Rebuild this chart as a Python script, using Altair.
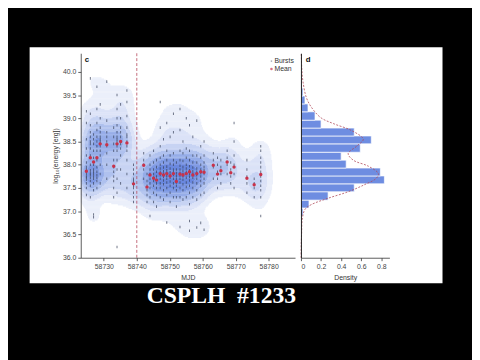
import numpy as np
import pandas as pd
import altair as alt

alt.data_transformers.disable_max_rows()

# ---------------- data ----------------
days = [58724.7, 58725.9, 58726.9, 58727.9, 58728.9, 58730.9, 58733.0, 58734.0, 58735.1, 58737.0, 58739.0,
        58742.1, 58743.1, 58744.0, 58745.1, 58746.0, 58747.1, 58748.1, 58749.1, 58750.1, 58751.1,
        58752.0, 58753.1, 58754.0, 58755.0, 58756.0, 58757.0, 58758.2, 58759.4, 58760.4,
        58763.2, 58764.5, 58765.5, 58767.4, 58768.5, 58769.5, 58773.4, 58775.6, 58777.6]

mean_energy = [37.86, 38.15, 38.06, 38.15, 38.45, 38.43, 37.97, 38.45, 38.50, 38.47, 37.59,
               37.99, 37.52, 37.78, 37.71, 37.67, 37.81, 37.78, 37.81, 37.76, 37.81,
               37.64, 37.80, 37.78, 37.81, 37.85, 37.78, 37.81, 37.85, 37.84,
               37.99, 37.80, 37.87, 38.06, 37.83, 37.95, 37.71, 37.57, 37.79]

burst_energy = [
    [37.35, 37.5, 37.6, 37.68, 37.72, 37.75, 37.8, 37.85, 37.9, 37.95, 38.05, 38.2, 38.35, 38.55, 38.9, 39.15],
    [37.3, 37.55, 37.65, 37.72, 37.78, 37.82, 37.88, 38.0, 38.2, 38.35, 38.45, 38.5, 38.6, 38.7, 38.85, 39.1, 39.86],
    [37.45, 37.6, 37.7, 37.75, 37.8, 37.85, 37.9, 38.0, 38.15, 38.3, 38.45, 38.55, 38.65, 36.93, 36.87],
    [37.5, 37.65, 37.72, 37.78, 37.85, 37.95, 38.1, 38.3, 38.4, 38.5, 38.6, 38.75, 38.9, 39.2, 39.68],
    [37.6, 37.8, 38.0, 38.2, 38.3, 38.4, 38.45, 38.5, 38.55, 38.6, 38.7, 38.8, 39.0, 39.3],
    [37.7, 38.0, 38.25, 38.4, 38.5, 38.6, 38.7, 38.95, 39.79],
    [37.3, 37.5, 37.65, 37.75, 37.85, 37.95, 38.1, 38.3, 38.45, 38.6, 38.8],
    [37.4, 37.7, 37.9, 38.1, 38.3, 38.4, 38.5, 38.55, 38.6, 38.7, 38.85, 39.0, 39.2, 39.5, 36.23],
    [37.6, 37.9, 38.2, 38.35, 38.45, 38.5, 38.6, 38.7, 38.8, 39.0, 39.3],
    [37.5, 37.8, 38.1, 38.3, 38.4, 38.5, 38.6, 38.65, 38.8, 39.05, 39.35, 39.6],
    [37.2, 37.3, 37.4, 37.5, 37.55, 37.6, 37.65, 37.7, 37.8, 37.9, 38.0],
    [37.7, 37.9, 38.0, 38.1, 38.25],
    [37.2, 37.35, 37.45, 37.55, 37.65, 37.8],
    [37.3, 37.5, 37.6, 37.7, 37.8, 37.9, 38.0, 38.2, 36.9],
    [37.2, 37.4, 37.55, 37.65, 37.72, 37.8, 37.9, 38.05, 38.3],
    [37.1, 37.35, 37.5, 37.6, 37.68, 37.75, 37.85, 37.95, 38.1],
    [37.3, 37.5, 37.6, 37.7, 37.78, 37.85, 37.92, 38.0, 38.15, 38.4, 38.8, 39.35],
    [37.25, 37.45, 37.58, 37.66, 37.74, 37.8, 37.86, 37.94, 38.05, 38.2, 38.55],
    [37.35, 37.5, 37.62, 37.7, 37.76, 37.82, 37.88, 37.96, 38.1, 38.3, 38.9, 36.76],
    [37.2, 37.4, 37.55, 37.64, 37.72, 37.78, 37.84, 37.92, 38.02, 38.2, 38.6],
    [37.3, 37.5, 37.6, 37.7, 37.78, 37.85, 37.9, 38.0, 38.1, 38.25, 38.7, 39.1],
    [37.1, 37.3, 37.45, 37.55, 37.62, 37.7, 37.76, 37.82, 37.9, 38.05],
    [37.3, 37.5, 37.62, 37.7, 37.77, 37.83, 37.9, 37.98, 38.1, 38.3, 38.75, 39.2, 36.66],
    [37.25, 37.45, 37.58, 37.68, 37.75, 37.8, 37.87, 37.95, 38.08, 38.25, 38.5],
    [37.3, 37.52, 37.62, 37.72, 37.8, 37.85, 37.92, 38.0, 38.15, 38.35, 39.0],
    [37.15, 37.4, 37.55, 37.66, 37.74, 37.8, 37.88, 37.97, 38.1, 38.3, 38.85, 36.58, 36.79],
    [37.3, 37.5, 37.62, 37.72, 37.8, 37.86, 37.94, 38.05, 38.2, 38.6],
    [37.25, 37.45, 37.6, 37.7, 37.78, 37.85, 37.92, 38.05, 38.2, 38.95, 36.65],
    [37.35, 37.55, 37.65, 37.75, 37.82, 37.9, 38.0, 38.15, 38.4, 36.75],
    [37.4, 37.6, 37.7, 37.8, 37.88, 37.95, 38.05, 38.2, 38.5, 36.6],
    [37.7, 37.95, 38.1, 38.25],
    [37.5, 37.7, 37.85, 38.0, 38.15],
    [37.6, 37.8, 37.95, 38.1],
    [37.8, 38.0, 38.15, 38.3],
    [37.6, 37.75, 37.9, 38.05],
    [37.5, 37.8, 38.0, 38.2, 38.5, 38.9],
    [37.4, 37.6, 37.75, 37.9, 38.1],
    [37.3, 37.5, 37.6, 37.7],
    [36.9, 37.3, 37.45, 37.55, 37.65, 37.75, 37.85, 37.95, 38.05, 38.15, 38.3, 38.4],
]

split_mjd = [58740]

hist_edges = [36.90, 37.07, 37.24, 37.42, 37.59, 37.76, 37.93, 38.10, 38.27, 38.45,
              38.62, 38.79, 38.96, 39.14, 39.31, 39.48, 39.65, 39.82]
hist_density = [0.02, 0.08, 0.27, 0.53, 0.83, 0.79, 0.45, 0.40, 0.59, 0.70,
                0.53, 0.20, 0.14, 0.07, 0.04, 0.02, 0.01]

kde_energy = [36.0, 36.3, 36.55, 36.83, 37.04, 37.14, 37.28, 37.42, 37.57, 37.71, 37.81, 37.97,
              38.10, 38.24, 38.41, 38.55, 38.74, 38.88, 39.01, 39.22, 39.44, 39.79, 40.1, 40.4]
kde_density = [0.001, 0.003, 0.007, 0.013, 0.04, 0.10, 0.27, 0.47, 0.63, 0.75, 0.77, 0.67,
               0.52, 0.47, 0.56, 0.62, 0.50, 0.33, 0.20, 0.11, 0.055, 0.02, 0.008, 0.003]

kde_palette = ["#ebeffa", "#dbe2f7", "#c7d3f3", "#afc1ee", "#95ace8", "#7d98e3", "#6a88df"]
kde_thresholds = [0.05, 0.12, 0.20, 0.30, 0.42, 0.56, 0.72]

# ---------------- derived tables ----------------
bx = np.array([d for d, es in zip(days, burst_energy) for _ in es])
by = np.array([e for es in burst_energy for e in es])
burst_df = pd.DataFrame({"mjd": bx, "energy": by})
mean_df = pd.DataFrame({"mjd": days, "energy": mean_energy})

# 2-D Gaussian KDE of the bursts, quantised into filled levels
gx_step, gy_step = 0.25, 0.025
gxs = np.arange(58723.0 + gx_step / 2, 58788.0, gx_step)
gys = np.arange(36.0 + gy_step / 2, 40.4, gy_step)
sx, sy = 2.4, 0.19
kx = np.exp(-0.5 * ((gxs[:, None] - bx[None, :]) / sx) ** 2)
ky = np.exp(-0.5 * ((gys[:, None] - by[None, :]) / sy) ** 2)
dens = ky @ kx.T
dens = dens / dens.max()
lev = np.digitize(dens, kde_thresholds)
cells = []
for i, yv in enumerate(gys):
    row = lev[i]
    j = 0
    n = len(row)
    while j < n:
        k = j
        while k + 1 < n and row[k + 1] == row[j]:
            k += 1
        if row[j] > 0:
            cells.append({"x0": gxs[j] - gx_step / 2, "x1": gxs[k] + gx_step / 2 + 0.05,
                          "y0": yv - gy_step / 2, "y1": yv + gy_step / 2 + 0.008,
                          "level": int(row[j])})
        j = k + 1
kde_df = pd.DataFrame(cells)

hist_df = pd.DataFrame({"lo": hist_edges[:-1], "hi": hist_edges[1:],
                        "density": hist_density, "base": [0.0] * len(hist_density)})
curve_df = pd.DataFrame({"energy": kde_energy, "density": kde_density})
one = pd.DataFrame({"a": [0]})

# ---------------- styling ----------------
FONT = "Liberation Sans"
XS = alt.Scale(domain=[58723, 58788], nice=False, zero=False)
YS = alt.Scale(domain=[36.0, 40.4], nice=False, zero=False)
DXS = alt.Scale(domain=[0, 0.88], nice=False)
common = dict(labelFontSize=7, titleFontSize=7, labelFont=FONT, titleFont=FONT,
              labelColor="#444", titleColor="#333", domainColor="#333", tickColor="#333",
              tickSize=3, domainWidth=0.8, tickWidth=0.8, grid=False, zindex=1,
              titleFontWeight="normal", labelPadding=2, titlePadding=4)
x_axis = alt.Axis(values=[58730, 58740, 58750, 58760, 58770, 58780], format="d", title="MJD", **common)
y_axis = alt.Axis(values=[36.0, 36.5, 37.0, 37.5, 38.0, 38.5, 39.0, 39.5, 40.0], format=".1f",
                  title="log₁₀(energy [erg])", **common)
dx_axis = alt.Axis(values=[0, 0.2, 0.4, 0.6, 0.8], format="~g", title="Density", **common)
dy_axis = alt.Axis(labels=False, ticks=False, title=None, domain=True, domainColor="#222",
                   domainWidth=1, grid=False, zindex=1)

# ---------------- main panel ----------------
bg = alt.Chart(one).mark_rect(color="#000000").encode(
    x=alt.value(-74), x2=alt.value(398), y=alt.value(-43), y2=alt.value(309))
panel = alt.Chart(one).mark_rect(color="#ffffff").encode(
    x=alt.value(-52), x2=alt.value(368), y=alt.value(-6), y2=alt.value(234))

kde = alt.Chart(kde_df).mark_rect().encode(
    x=alt.X("x0:Q", scale=XS, axis=x_axis), x2="x1:Q",
    y=alt.Y("y0:Q", scale=YS, axis=y_axis), y2="y1:Q",
    color=alt.Color("level:O", scale=alt.Scale(domain=list(range(1, 8)), range=kde_palette), legend=None))

pts = alt.Chart(burst_df).mark_tick(orient="vertical", size=2.6, thickness=0.9,
                                    color="#39425a", opacity=0.8).encode(
    x=alt.X("mjd:Q", scale=XS, axis=x_axis), y=alt.Y("energy:Q", scale=YS, axis=y_axis))

split = alt.Chart(pd.DataFrame({"mjd": split_mjd})).mark_rule(
    color="#b5475a", strokeDash=[3, 2], strokeWidth=0.8).encode(
    x=alt.X("mjd:Q", scale=XS, axis=x_axis))

means = alt.Chart(mean_df).mark_circle(size=12, color="#c8324a", opacity=1).encode(
    x=alt.X("mjd:Q", scale=XS, axis=x_axis), y=alt.Y("energy:Q", scale=YS, axis=y_axis))

def txt(s, x, y, size=7, color="#333", weight="normal", font=FONT, align="left", baseline="middle"):
    return alt.Chart(one).mark_text(text=s, fontSize=size, color=color, fontWeight=weight,
                                    font=font, align=align, baseline=baseline).encode(
        x=alt.value(x), y=alt.value(y))

lab_c = txt("c", 4, 7, size=8, color="#111", weight="bold")
leg_b_pt = alt.Chart(one).mark_circle(size=3, color="#8a8f9c").encode(x=alt.value(194), y=alt.value(8))
leg_m_pt = alt.Chart(one).mark_circle(size=7, color="#c8324a").encode(x=alt.value(194), y=alt.value(16))
leg_b = txt("Bursts", 197, 8)
leg_m = txt("Mean", 197, 16)
title = txt("CSPLH\u00a0\u00a0#1233", 143, 254, size=24, color="#ffffff", weight="bold",
            font="Liberation Serif", align="center", baseline="alphabetic")

main = alt.layer(bg, panel, kde, pts, split, means, lab_c, leg_b_pt, leg_m_pt, leg_b, leg_m, title
                 ).properties(width=218, height=208)

# ---------------- density panel ----------------
hist = alt.Chart(hist_df).mark_rect(color="#6e8de1", stroke="#ffffff", strokeWidth=0.7).encode(
    x=alt.X("base:Q", scale=DXS, axis=dx_axis), x2="density:Q",
    y=alt.Y("lo:Q", scale=YS, axis=dy_axis), y2="hi:Q")
curve = alt.Chart(curve_df).mark_line(color="#b04a5a", strokeDash=[2, 1.5], strokeWidth=0.8,
                                      interpolate="catmull-rom").encode(
    x=alt.X("density:Q", scale=DXS, axis=dx_axis), y=alt.Y("energy:Q", scale=YS, axis=dy_axis),
    order="energy:Q")
lab_d = txt("d", 5, 7, size=8, color="#111", weight="bold")

dpanel = alt.layer(hist, curve, lab_d).properties(width=90, height=208)

chart = alt.hconcat(main, dpanel, spacing=6, bounds="flush").properties(
    padding=0, background="#000000"
).configure_view(stroke=None)

chart.save("out.html", embed_options={"renderer": "svg", "actions": False})
